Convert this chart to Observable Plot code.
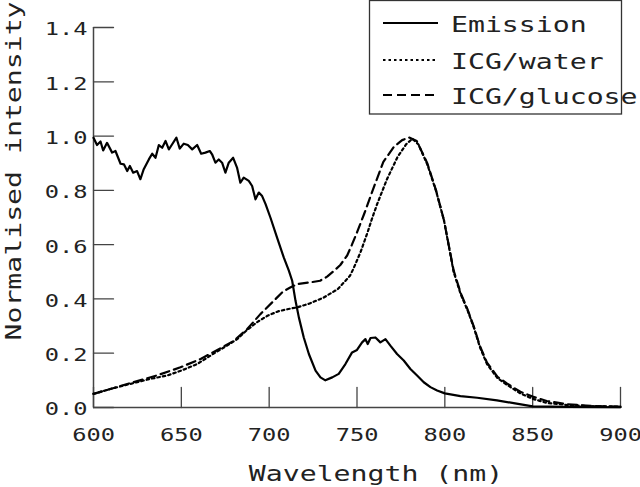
<!DOCTYPE html>
<html>
<head>
<meta charset="utf-8">
<script src="https://cdn.jsdelivr.net/npm/d3@7"></script>
<script src="https://cdn.jsdelivr.net/npm/@observablehq/plot@0.6"></script>
<style>
  html, body { margin: 0; padding: 0; background: #fff; }
  svg text { font-family: "DejaVu Sans Mono", monospace; }
</style>
</head>
<body>
<div id="chart"></div>
<script>
// ---- data ----
const xTicks = [600, 650, 700, 750, 800, 850, 900];
const yTicks = [0, 0.2, 0.4, 0.6, 0.8, 1.0, 1.2, 1.4];
const xLabel = "Wavelength (nm)";
const yLabel = "Normalised intensity";
const seriesNames = ["Emission", "ICG/water", "ICG/glucose"];

const emissionX = [600, 602, 604, 605.5, 607.7, 610.6, 612.5, 615.4, 617.3, 619.2, 620.7, 622.6, 624.8, 626.7, 628.6, 631.5, 633.4, 635.3, 637.2, 639.1, 641, 642.9, 644.7, 647.2, 649.1, 651.4, 653.7, 656.2, 659, 661.3, 663.7, 666.2, 667.5, 669.4, 671.3, 673.2, 675.1, 677, 679.5, 681.7, 683.6, 685.5, 688.4, 690.3, 692.2, 694.1, 696, 697.9, 700.7, 704.5, 708.3, 711.2, 713.1, 715, 716.9, 719.7, 722.6, 726.4, 729.2, 732, 735.9, 739.6, 743.4, 747.2, 750, 752.9, 754.8, 756.1, 757.7, 760.5, 763.3, 766.2, 769, 772.8, 776.6, 780.4, 784.2, 788, 791.8, 795.6, 800, 808.9, 818.4, 829.7, 839.2, 850, 870, 900];
const emissionY = [0.994, 0.967, 0.98, 0.947, 0.975, 0.939, 0.945, 0.898, 0.896, 0.871, 0.89, 0.865, 0.871, 0.841, 0.878, 0.914, 0.935, 0.92, 0.967, 0.957, 0.982, 0.951, 0.969, 0.994, 0.954, 0.972, 0.967, 0.951, 0.967, 0.935, 0.939, 0.945, 0.933, 0.902, 0.914, 0.902, 0.865, 0.902, 0.92, 0.884, 0.828, 0.847, 0.835, 0.816, 0.767, 0.792, 0.779, 0.75, 0.70, 0.626, 0.553, 0.504, 0.467, 0.393, 0.332, 0.258, 0.197, 0.136, 0.111, 0.10, 0.111, 0.124, 0.16, 0.203, 0.212, 0.24, 0.252, 0.234, 0.256, 0.258, 0.24, 0.252, 0.228, 0.197, 0.173, 0.142, 0.118, 0.093, 0.075, 0.0625, 0.052, 0.042, 0.036, 0.026, 0.016, 0.004, 0.002, 0.001];

const waterX = [600, 610, 621, 632, 642, 650, 659, 668, 676, 682, 687, 693, 699, 705, 711, 716, 723, 731, 739, 746, 748, 752, 756, 758.5, 761.5, 767, 773, 778, 781.5, 785, 790, 795, 799.5, 805, 809, 813, 816.5, 820, 824, 830, 835.5, 843, 850, 858, 870, 883, 900];
const waterY = [0.05, 0.069, 0.087, 0.105, 0.118, 0.136, 0.16, 0.197, 0.228, 0.253, 0.283, 0.314, 0.338, 0.354, 0.363, 0.369, 0.383, 0.405, 0.436, 0.485, 0.512, 0.572, 0.645, 0.695, 0.75, 0.84, 0.922, 0.97, 0.99, 0.969, 0.896, 0.798, 0.69, 0.50, 0.418, 0.357, 0.295, 0.222, 0.16, 0.108, 0.083, 0.052, 0.032, 0.017, 0.009, 0.005, 0.003];

const glucoseX = [600, 621, 636, 649.5, 661, 670, 680, 687.5, 695, 702.6, 708, 712, 716, 723.5, 729, 733, 737, 740.5, 744.4, 747, 750, 754, 759.5, 765, 771, 775.7, 779.5, 784, 790, 795, 799.5, 805, 809, 813, 816.5, 820, 824, 830, 835.5, 843, 850, 858, 870, 883, 900];
const glucoseY = [0.05, 0.09, 0.118, 0.148, 0.179, 0.21, 0.246, 0.289, 0.344, 0.393, 0.428, 0.442, 0.455, 0.461, 0.467, 0.482, 0.504, 0.525, 0.56, 0.598, 0.645, 0.712, 0.81, 0.905, 0.96, 0.985, 0.995, 0.982, 0.90, 0.80, 0.69, 0.505, 0.422, 0.36, 0.298, 0.226, 0.165, 0.113, 0.088, 0.058, 0.04, 0.024, 0.012, 0.006, 0.003];

// ---- build tables ----
const toRows = (xs, ys, s) => xs.map((x, i) => ({x, y: ys[i], s}));
const emission = toRows(emissionX, emissionY, seriesNames[0]);
const water = toRows(waterX, waterY, seriesNames[1]);
const glucose = toRows(glucoseX, glucoseY, seriesNames[2]);

const axisColor = "#444";
const tickShape = {draw(context, l) { context.moveTo(0, 0); context.lineTo(0, -l); }};

const chart = Plot.plot({
  width: 640,
  height: 487,
  marginLeft: 93,
  marginRight: 20,
  marginTop: 27,
  marginBottom: 80,
  style: {fontFamily: "DejaVu Sans Mono", fontSize: "18.5px", background: "#fff", color: "#222"},
  x: {domain: [600, 900]},
  y: {domain: [0, 1.4]},
  marks: [
    Plot.axisX({ticks: xTicks, tickSize: 0, tickPadding: 20, tickFormat: d3.format("d"), label: null, fill: "#222"}),
    Plot.axisY({ticks: yTicks, tickSize: 0, tickPadding: 6, dy: 2, tickFormat: d3.format(".1f"), label: null, fill: "#222"}),
    // inward ticks
    Plot.vector(yTicks, {x: () => 600, y: d => d, length: 20, rotate: 90, anchor: "start", shape: tickShape, stroke: axisColor, strokeWidth: 1.3}),
    Plot.vector(xTicks, {x: d => d, y: () => 0, length: 20, rotate: 0, anchor: "start", shape: tickShape, stroke: axisColor, strokeWidth: 1.3}),
    // axis lines
    Plot.ruleX([xTicks[0]], {y1: yTicks[0], y2: yTicks[yTicks.length - 1], stroke: axisColor, strokeWidth: 1.5}),
    Plot.ruleY([yTicks[0]], {x1: xTicks[0], x2: xTicks[xTicks.length - 1], stroke: axisColor, strokeWidth: 1.5}),
    // series
    Plot.line(water, {x: "x", y: "y", stroke: "#000", strokeWidth: 2.2, strokeDasharray: "2.5,3"}),
    Plot.line(glucose, {x: "x", y: "y", stroke: "#000", strokeWidth: 2.2, strokeDasharray: "9,5"}),
    Plot.line(emission, {x: "x", y: "y", stroke: "#000", strokeWidth: 2.2})
  ]
});

document.getElementById("chart").appendChild(chart);
const svg = d3.select(chart);

// ---- axis titles ----
svg.append("text")
  .attr("x", 376).attr("y", 481)
  .attr("text-anchor", "middle").attr("font-size", 22).attr("fill", "#222")
  .text(xLabel);
svg.append("text")
  .attr("transform", "translate(21,171) rotate(-90)")
  .attr("text-anchor", "middle").attr("font-size", 22).attr("fill", "#222")
  .text(yLabel);

// ---- legend (inside the SVG, top right) ----
const leg = svg.append("g").attr("class", "legend");
leg.append("rect")
  .attr("x", 369.5).attr("y", 0.5).attr("width", 252).attr("height", 113.5)
  .attr("fill", "#fff").attr("stroke", "#333").attr("stroke-width", 1.3);
const dashes = [null, "2.5,3", "9,5"];
const rowY = [23, 60, 95];
seriesNames.forEach((name, i) => {
  const line = leg.append("line")
    .attr("x1", 383).attr("x2", 438).attr("y1", rowY[i]).attr("y2", rowY[i])
    .attr("stroke", "#000").attr("stroke-width", 2.2);
  if (dashes[i]) line.attr("stroke-dasharray", dashes[i]);
  leg.append("text")
    .attr("x", 451).attr("y", rowY[i] + 9)
    .attr("text-anchor", "start")
    .attr("font-size", 22).attr("fill", "#222")
    .text(name);
});

// ---- widen the monospace glyphs to match the reference's wide face ----
chart.querySelectorAll("text").forEach(t => {
  const len = t.getComputedTextLength();
  if (len > 0) {
    t.setAttribute("textLength", (len * 1.28).toFixed(2));
    t.setAttribute("lengthAdjust", "spacingAndGlyphs");
  }
});
</script>
</body>
</html>
